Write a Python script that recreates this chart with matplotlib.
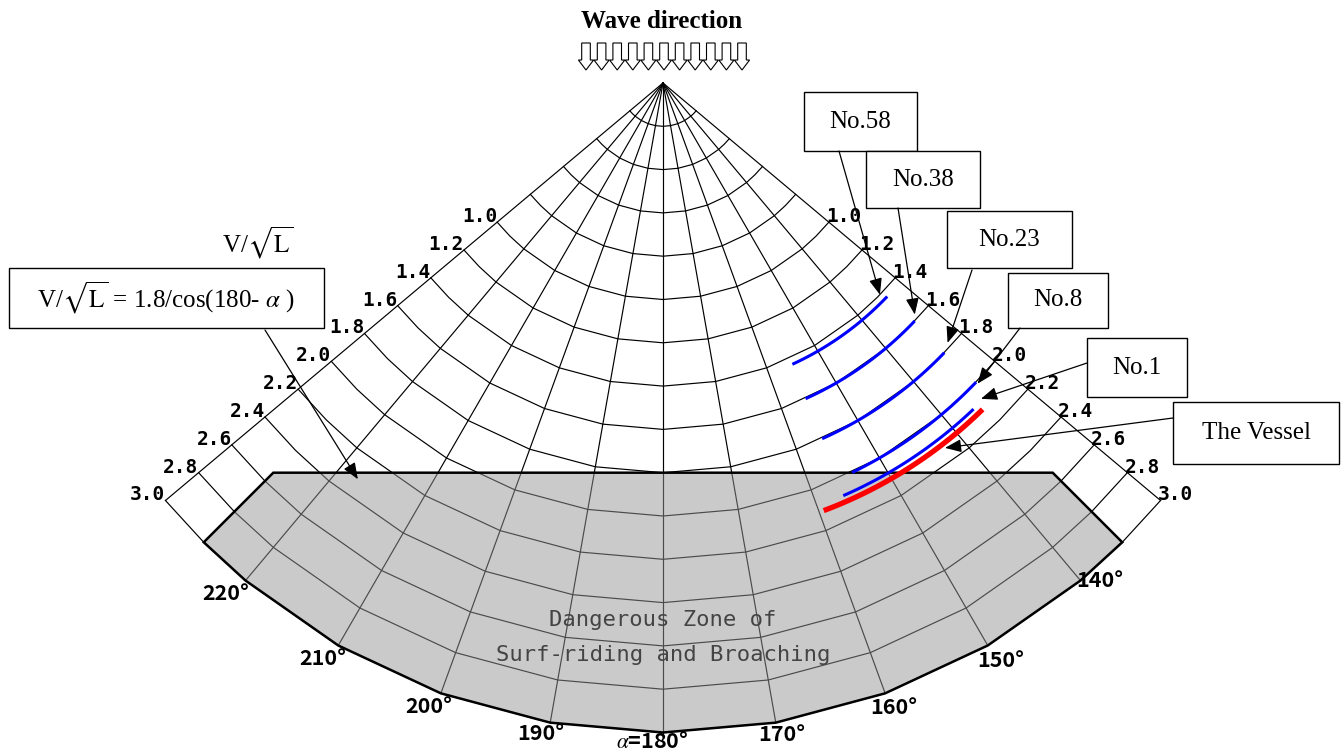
import numpy as np
import matplotlib
matplotlib.use("Agg")
import matplotlib.pyplot as plt
from matplotlib.patches import Polygon, Rectangle

plt.rcParams['mathtext.fontset'] = 'stix'

# Polar grid: encounter angle alpha (deg) and V/sqrt(L)
radial_alphas = np.arange(130, 231, 10)
arc_alphas = np.array([130, 135, 140, 150, 160, 170, 180, 190, 200, 210, 220, 225, 230])
speed_arcs = np.round(np.arange(0.2, 3.01, 0.2), 1)
scale_labels = [1.0, 1.2, 1.4, 1.6, 1.8, 2.0, 2.2, 2.4, 2.6, 2.8, 3.0]
angle_ticks = [140, 150, 160, 170, 180, 190, 200, 210, 220]
v_max = 3.0

# Dangerous zone: V/sqrt(L) = 1.8/cos(180-alpha), 135..225 deg
danger_v = 1.8
danger_alpha = (135, 225)

# Ships (V/sqrt(L) constant over a range of alpha)
ship_names = ["No.58", "No.38", "No.23", "No.8", "No.1", "The Vessel"]
ship_v = [1.43, 1.60, 1.80, 2.00, 2.08, 2.11]
ship_alpha_start = [155.3, 155.7, 155.9, 154.1, 156.4, 159.4]
ship_alpha_end = [133.6, 133.4, 133.8, 133.7, 136.4, 135.6]
ship_colors = ["#0000ff"] * 5 + ["#ff0000"]
ship_lw = [2.2] * 5 + [3.8]

# where the callout arrows point (V/sqrt(L), alpha)
tip_v = [1.40, 1.58, 1.78, 2.01, 2.07, 2.13]
tip_alpha = [134.3, 132.6, 132.4, 133.7, 134.8, 142.3]
formula_tip = (2.31, 217.6)

# layout of the reference picture (pixels)
S = 216.5
APEX = (663, 83)
box_rects = [(804, 92, 917, 151), (866, 151, 980, 208), (947, 211, 1072, 268),
             (1008, 273, 1108, 328), (1087, 338, 1187, 397), (1173, 402, 1339, 464)]
arrow_starts = [(839, 151), (898, 208), (972, 270), (1020, 328), (1087, 363), (1173, 418)]


def pol(v, a):
    t = np.radians(180 - np.asarray(a, dtype=float))
    v = np.asarray(v, dtype=float)
    return v * np.sin(t), -v * np.cos(t)


def px(x, y):
    return (x - APEX[0]) / S, (APEX[1] - y) / S


fig = plt.figure(figsize=(13.44, 7.51), dpi=100)
ax = fig.add_axes([0, 0, 1, 1])
ax.set_xlim(px(0, 0)[0], px(1344, 0)[0])
ax.set_ylim(px(0, 751)[1], px(0, 0)[1])
ax.axis('off')

# grid
for a in radial_alphas:
    x, y = pol([0, v_max], [a, a])
    ax.plot(x, y, color='k', lw=0.85, zorder=1)
for v in speed_arcs:
    x, y = pol(np.full(len(arc_alphas), v), arc_alphas)
    ax.plot(x, y, color='k', lw=0.85, zorder=1)

# dangerous zone
a_in = arc_alphas[(arc_alphas >= danger_alpha[0]) & (arc_alphas <= danger_alpha[1])][::-1]
r_left = danger_v / np.cos(np.radians(180 - danger_alpha[1]))
r_right = danger_v / np.cos(np.radians(180 - danger_alpha[0]))
verts = [pol(r_left, danger_alpha[1])]
verts += [pol(v_max, a) for a in a_in]
verts += [pol(r_right, danger_alpha[0])]
verts = [(float(x), float(y)) for x, y in verts]
ax.add_patch(Polygon(verts, closed=True, fc='#969696', alpha=0.5, ec='none', zorder=2))
ax.add_patch(Polygon(verts, closed=True, fill=False, ec='k', lw=1.8, zorder=3))

ax.text(*px(663, 620), "Dangerous Zone of", ha='center', va='center', fontsize=16,
        family='DejaVu Sans Mono', color='#444444', zorder=5)
ax.text(*px(663, 655), "Surf-riding and Broaching", ha='center', va='center', fontsize=16,
        family='DejaVu Sans Mono', color='#444444', zorder=5)

# ship curves
for i in range(len(ship_names)):
    aa = np.linspace(ship_alpha_start[i], ship_alpha_end[i], 80)
    x, y = pol(np.full(len(aa), ship_v[i]), aa)
    ax.plot(x, y, color=ship_colors[i], lw=ship_lw[i], solid_capstyle='butt', zorder=4)

# scale labels on both edges
for v in scale_labels:
    x, y = pol(v, radial_alphas[-1])
    ax.text(x, y, f"{v:.1f}", ha='right', va='baseline', fontsize=14,
            family='DejaVu Sans Mono', fontweight='bold', zorder=5)
    x, y = pol(v, radial_alphas[0])
    ax.text(x - 3 / S, y, f"{v:.1f}", ha='left', va='baseline', fontsize=14,
            family='DejaVu Sans Mono', fontweight='bold', zorder=5)

# angle labels
for a in angle_ticks:
    r = 3.04 + 0.1 * abs(np.sin(np.radians(180 - a)))
    shift = 0.6 if a > 180 else (-0.3 if a < 180 else 0.9)
    if a == 140:
        r, shift = 3.06, -1.3
    x, y = pol(r, a + shift)
    lab = r"$\alpha$=180°" if a == 180 else f"{a}°"
    ax.text(x, y, lab, ha='center', va='center', fontsize=15.5,
            family='Noto Sans CJK JP', fontweight='bold', zorder=5)

# callout boxes and arrows
arrow_style = dict(arrowstyle='-|>,head_length=0.55,head_width=0.22', mutation_scale=18,
                   lw=0.9, color='k', shrinkA=0, shrinkB=0)
for i, name in enumerate(ship_names):
    x0, y0, x1, y1 = box_rects[i]
    bx, by = px(x0, y1)
    ax.add_patch(Rectangle((bx, by), (x1 - x0) / S, (y1 - y0) / S, fc='white', ec='k',
                           lw=1.0, zorder=6))
    ax.text(*px((x0 + x1) / 2, (y0 + y1) / 2), name, ha='center', va='center',
            fontsize=18, family='Liberation Serif', zorder=7)
    tx, ty = pol(tip_v[i], tip_alpha[i])
    ax.annotate('', xy=(float(tx), float(ty)), xytext=px(*arrow_starts[i]),
                arrowprops=arrow_style, zorder=7)

# formula box
bx, by = px(9, 328)
ax.add_patch(Rectangle((bx, by), 315 / S, 60 / S, fc='white', ec='k', lw=1.0, zorder=6))
ax.text(*px(166, 298), r"V/$\sqrt{\mathrm{L}}$ = 1.8/cos(180- $\alpha$ )", ha='center',
        va='center', fontsize=18, family='Liberation Serif', zorder=7)
tx, ty = pol(*formula_tip)
ax.annotate('', xy=(float(tx), float(ty)), xytext=px(265, 330), arrowprops=arrow_style, zorder=7)
ax.text(*px(258, 243), r"V/$\sqrt{\mathrm{L}}$", ha='center', va='center', fontsize=18,
        family='Liberation Serif', zorder=7)

# wave direction
ax.text(*px(662, 21), "Wave direction", ha='center', va='center', fontsize=18,
        family='Liberation Serif', fontweight='bold', zorder=7)
n_arrows = 11
for i in range(n_arrows):
    cx = 586 + i * 15.6
    shape = [(cx - 4.3, 43), (cx + 4.3, 43), (cx + 4.3, 60), (cx + 7.6, 60), (cx, 70),
             (cx - 7.6, 60), (cx - 4.3, 60)]
    ax.add_patch(Polygon([px(x, y) for x, y in shape], closed=True, fc='white', ec='k',
                         lw=0.8, zorder=7))

fig.savefig("out.png", dpi=100)
